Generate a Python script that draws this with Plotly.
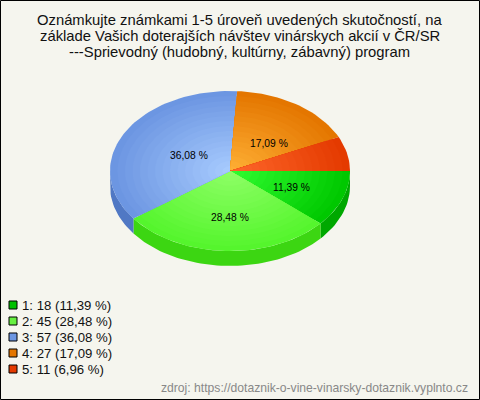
import math
import plotly.graph_objects as go

TITLE_LINES = ["Oznámkujte známkami 1-5 úroveň uvedených skutočností, na",
               "základe Vašich doterajších návštev vinárskych akcií v ČR/SR",
               "---Sprievodný (hudobný, kultúrny, zábavný) program"]
categories = ["1", "2", "3", "4", "5"]
counts = [18, 45, 57, 27, 11]
SOURCE = "zdroj: https://dotaznik-o-vine-vinarsky-dotaznik.vyplnto.cz"

inner_colors = [(50, 255, 50), (145, 255, 105), (170, 205, 255), (255, 178, 55), (255, 105, 45)]
outer_colors = [(0, 200, 0), (85, 245, 45), (108, 150, 226), (228, 118, 0), (228, 58, 0)]
side_colors = ["#00a800", "#3cd612", "#5078c4", "#b85e00", "#b83000"]
swatch_colors = ["#00c000", "#66f040", "#6c96e2", "#e47600", "#e43a00"]
label_fx = [0.515, 0.0, -0.344, 0.325, 0]
label_fy = [0.20, 0.575, -0.20, -0.35, 0]

CX, CY, RX, RY, DEPTH = 230, 171, 120, 80, 15
BG = "#f5f5ee"
RINGS = 16

total = sum(counts)
pct = [c / total * 100 for c in counts]


def rgb(c):
    return f"rgb({round(c[0])},{round(c[1])},{round(c[2])})"


def arc(a0, a1, r=1.0, dy=0):
    n = max(2, int(abs(a1 - a0) / 2) + 1)
    out = []
    for i in range(n + 1):
        t = math.radians(a0 + (a1 - a0) * i / n)
        out.append((CX + RX * r * math.cos(t), CY + dy + RY * r * math.sin(t)))
    return out


fig = go.Figure()


def poly(pts, color):
    fig.add_trace(go.Scatter(x=[p[0] for p in pts], y=[p[1] for p in pts], mode="lines",
                             fill="toself", fillcolor=color, line=dict(width=0, color=color),
                             hoverinfo="skip", showlegend=False))


# side wall
start = 0.0
spans = []
for c in counts:
    end = start + c / total * 360
    spans.append((start, end))
    start = end
for (a0, a1), col in zip(spans, side_colors):
    if a0 < 180:
        e = min(a1, 180)
        poly(arc(a0, e) + arc(e, a0, dy=DEPTH), col)

# top face, radial shading by concentric sectors
for (a0, a1), ci, co in zip(spans, inner_colors, outer_colors):
    for k in range(RINGS):
        f = 1 - k / RINGS
        col = tuple(ci[j] + (co[j] - ci[j]) * f for j in range(3))
        poly([(CX, CY)] + arc(a0, a1, r=f), rgb(col))

annotations = []
# slice labels
for (a0, a1), p, fx, fy in zip(spans, pct, label_fx, label_fy):
    if p < 10:
        continue
    annotations.append(dict(x=CX + RX * fx, y=CY + RY * fy, xref="x", yref="y", showarrow=False,
                            text=f"{p:.2f} %".replace(".", ","),
                            font=dict(family="Liberation Sans", size=10.3, color="#000000")))

# title
for i, line in enumerate(TITLE_LINES):
    annotations.append(dict(x=239.5, y=20 + i * 16, xref="x", yref="y", showarrow=False, text=line,
                            font=dict(family="Liberation Sans", size=14.8, color="#111111")))

# legend
for i, (cat, c, p, col) in enumerate(zip(categories, counts, pct, swatch_colors)):
    y = 305 + i * 16
    fig.add_trace(go.Scatter(x=[13], y=[y], mode="markers",
                             marker=dict(symbol="square", size=8, color=col,
                                         line=dict(width=1, color="#000000")),
                             hoverinfo="skip", showlegend=False))
    annotations.append(dict(x=20, y=y, xref="x", yref="y", xanchor="left", showarrow=False,
                            text=f"{cat}: {c} ({p:.2f} %)".replace(".", ","),
                            font=dict(family="Liberation Sans", size=13.2, color="#111111")))

annotations.append(dict(x=470, y=388, xref="x", yref="y", xanchor="right", showarrow=False, text=SOURCE,
                        font=dict(family="Liberation Sans", size=12.15, color="#888888")))

fig.update_layout(
    width=480, height=400, margin=dict(l=0, r=0, t=0, b=0),
    paper_bgcolor=BG, plot_bgcolor=BG, showlegend=False, annotations=annotations,
    xaxis=dict(range=[0, 480], visible=False, fixedrange=True),
    yaxis=dict(range=[400, 0], visible=False, fixedrange=True),
    shapes=[dict(type="rect", xref="x", yref="y", x0=0.5, y0=0.5, x1=479.5, y1=399.5,
                 line=dict(color="#000000", width=1))],
)
fig.write_html("out.html", config=dict(displayModeBar=False),
               post_script="document.body.style.margin='0';document.documentElement.style.overflow='hidden';")
